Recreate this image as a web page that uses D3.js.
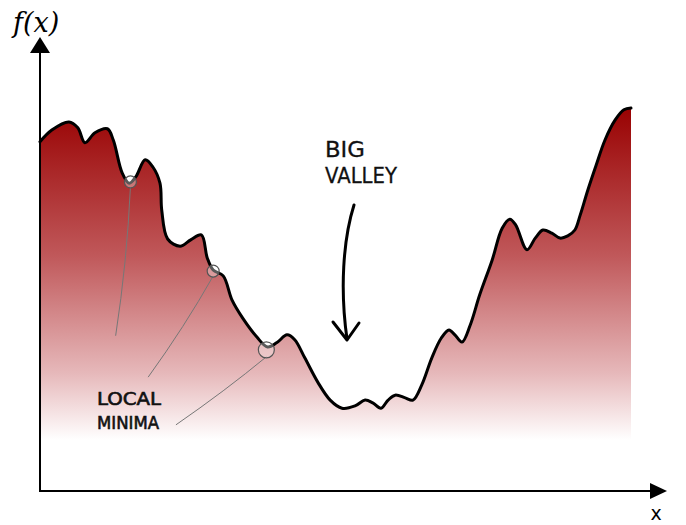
<!DOCTYPE html>
<html>
<head>
<meta charset="utf-8">
<script src="https://cdn.jsdelivr.net/npm/d3@7"></script>
<style>
  body { margin: 0; background: #fff; }
  svg { display: block; }
</style>
</head>
<body>
<div id="chart"></div>
<script>
// landscape f(x) (x: 0..100, f: 0..100)
const xs = [0, 2.0, 4.9, 6.4, 7.6, 9.3, 11.4, 12.4, 13.9, 15.1, 16.2, 17.8, 19.1, 20.3, 20.6, 21.6, 23.7, 25.5, 27.3, 28.3, 29.3, 31.0, 32.5, 34.3, 36.7, 38.5, 40.1, 41.8, 43.1, 44.8, 47.0, 49.1, 51.1, 53.3, 55.0, 56.3, 57.7, 58.9, 60.1, 61.8, 63.1, 64.6, 66.3, 67.9, 69.2, 70.2, 71.4, 72.8, 74.4, 76.5, 78.2, 79.5, 80.5, 82.4, 83.8, 85.1, 86.6, 88.0, 89.3, 90.5, 91.4, 92.7, 94.1, 95.6, 97.3, 98.8, 100];
const fx = [77.6, 80.2, 82.0, 80.7, 77.4, 79.6, 80.5, 78.0, 70.7, 68.4, 69.8, 73.6, 72.0, 68.4, 62.4, 56.0, 54.4, 55.8, 56.9, 51.8, 49.1, 47.8, 42.4, 38.4, 34.2, 32.0, 33.0, 34.7, 33.6, 29.6, 24.2, 20.2, 18.4, 18.9, 20.2, 19.6, 18.4, 20.2, 21.3, 20.7, 20.2, 23.6, 29.6, 34.0, 35.8, 34.7, 33.1, 36.9, 43.6, 51.3, 58.4, 60.4, 59.1, 53.6, 56.2, 58.0, 57.3, 56.2, 56.7, 58.0, 61.3, 66.9, 72.4, 78.0, 82.4, 84.7, 85.1];

// local minima marked on the curve, and where their leader lines end
const minimaX = [15.3, 29.3, 38.3];
const minimaF = [68.9, 49.1, 31.6];
const minimaR = [6, 6, 8];
const leaderEndX = [12.8, 18.3, 23.0];
const leaderEndF = [34.5, 25.3, 14.7];

const labelMinima = ["LOCAL", "MINIMA"];
const labelValley = ["BIG", "VALLEY"];

const data = xs.map((x, i) => ({ x, f: fx[i] }));

const width = 686, height = 525;
const plotLeft = 40, plotRight = 631, plotBottom = 491, plotTop = 41;

const svg = d3.select("#chart").append("svg")
  .attr("width", width)
  .attr("height", height);

const x = d3.scaleLinear().domain([0, 100]).range([plotLeft, plotRight]);
const y = d3.scaleLinear().domain([0, 100]).range([plotBottom, plotTop]);

// red fading to white
const grad = svg.append("defs").append("linearGradient")
  .attr("id", "fade")
  .attr("gradientUnits", "userSpaceOnUse")
  .attr("x1", 0).attr("x2", 0)
  .attr("y1", 105).attr("y2", 440);
grad.append("stop").attr("offset", "0%").attr("stop-color", "#980000");
grad.append("stop").attr("offset", "45%").attr("stop-color", "#c0585a");
grad.append("stop").attr("offset", "80%").attr("stop-color", "#e6b8ba");
grad.append("stop").attr("offset", "100%").attr("stop-color", "#ffffff");

const curve = d3.curveCatmullRom.alpha(0.5);

svg.append("path")
  .datum(data)
  .attr("fill", "url(#fade)")
  .attr("d", d3.area().x(d => x(d.x)).y0(y(0)).y1(d => y(d.f)).curve(curve));

// leader lines
svg.selectAll(".leader")
  .data(minimaX)
  .join("path")
  .attr("class", "leader")
  .attr("fill", "none")
  .attr("stroke", "#777")
  .attr("stroke-width", 1)
  .attr("d", (d, i) => {
    const x0 = x(d), y0 = y(minimaF[i]) + minimaR[i];
    const x1 = x(leaderEndX[i]), y1 = y(leaderEndF[i]);
    const mx = (x0 + x1) / 2 + 4, my = (y0 + y1) / 2;
    return `M${x0},${y0} Q${mx},${my} ${x1},${y1}`;
  });

svg.append("path")
  .datum(data)
  .attr("fill", "none")
  .attr("stroke", "#000")
  .attr("stroke-width", 3)
  .attr("stroke-linejoin", "round")
  .attr("stroke-linecap", "round")
  .attr("d", d3.line().x(d => x(d.x)).y(d => y(d.f)).curve(curve));

// circles on the minima
svg.selectAll(".minimum")
  .data(minimaX)
  .join("circle")
  .attr("class", "minimum")
  .attr("cx", d => x(d))
  .attr("cy", (d, i) => y(minimaF[i]) + 1)
  .attr("r", (d, i) => minimaR[i])
  .attr("fill", "rgba(255,255,255,0.35)")
  .attr("stroke", "#555")
  .attr("stroke-width", 1.2);

// axes
svg.append("line")
  .attr("x1", plotLeft).attr("x2", plotLeft)
  .attr("y1", plotBottom + 1).attr("y2", 50)
  .attr("stroke", "#000").attr("stroke-width", 2);
svg.append("line")
  .attr("x1", plotLeft - 1).attr("x2", 652)
  .attr("y1", plotBottom).attr("y2", plotBottom)
  .attr("stroke", "#000").attr("stroke-width", 2);
svg.append("path")
  .attr("d", `M${plotLeft},37 L${plotLeft + 10},53 L${plotLeft - 10},53 Z`)
  .attr("fill", "#000");
svg.append("path")
  .attr("d", `M667,${plotBottom} L650,${plotBottom - 8} L650,${plotBottom + 8} Z`)
  .attr("fill", "#000");

svg.append("text")
  .attr("x", 13).attr("y", 32)
  .attr("font-family", "DejaVu Serif")
  .attr("font-style", "italic")
  .attr("font-size", 27)
  .text("f(x)");
svg.append("text")
  .attr("x", 656).attr("y", 520)
  .attr("text-anchor", "middle")
  .attr("font-family", "DejaVu Sans")
  .attr("font-size", 19)
  .text("x");

// annotations, lettered thin and narrow like the sketch
svg.selectAll(".minima-label")
  .data(labelMinima)
  .join("text")
  .attr("class", "minima-label")
  .attr("x", 97)
  .attr("y", (d, i) => 405 + i * 24)
  .attr("font-family", "DejaVu Sans")
  .attr("font-size", 17)
  .attr("fill", "#111")
  .attr("stroke", "#111")
  .attr("stroke-width", 0.6)
  .attr("textLength", (d, i) => i === 0 ? 64 : 62)
  .attr("lengthAdjust", "spacingAndGlyphs")
  .text(d => d);

svg.selectAll(".valley-label")
  .data(labelValley)
  .join("text")
  .attr("class", "valley-label")
  .attr("x", 325)
  .attr("y", (d, i) => 157 + i * 26)
  .attr("font-family", "DejaVu Sans")
  .attr("font-size", 22)
  .attr("fill", "#111")
  .attr("stroke", "#111")
  .attr("stroke-width", 0.3)
  .attr("textLength", (d, i) => i === 0 ? 40 : 72)
  .attr("lengthAdjust", "spacingAndGlyphs")
  .text(d => d);

svg.append("path")
  .attr("d", "M354,205 C343,240 340,290 347,339")
  .attr("fill", "none")
  .attr("stroke", "#000")
  .attr("stroke-width", 3)
  .attr("stroke-linecap", "round");
svg.append("path")
  .attr("d", "M333,322 L347,340 L359,323")
  .attr("fill", "none")
  .attr("stroke", "#000")
  .attr("stroke-width", 3)
  .attr("stroke-linecap", "round")
  .attr("stroke-linejoin", "round");
</script>
</body>
</html>
